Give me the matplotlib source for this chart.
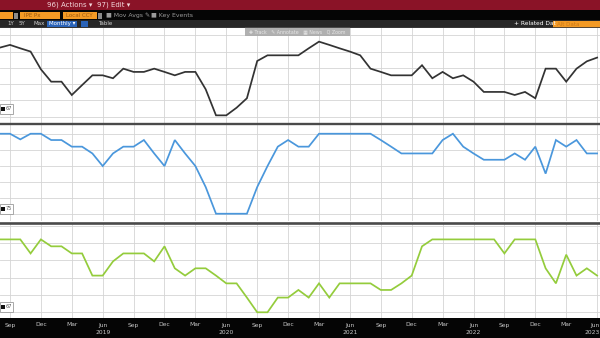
import matplotlib
matplotlib.use("Agg")
import matplotlib.pyplot as plt
from matplotlib.patches import Rectangle
import numpy as np

plt.rcParams['font.family'] = ['DejaVu Sans']

# ---------------- data (monthly, Aug 2018 .. Jun 2023) ----------------
months = list(range(-1, 58))  # 0 = Sep 2018
series_black = [42.4, 44.1, 42.0, 40.0, 29.1, 21.5, 21.5, 13.3, 19.4, 25.4, 25.4,
                23.6, 29.5, 27.5, 27.5, 29.5, 27.5, 25.4, 27.5, 27.5, 16.8, 0.8,
                0.8, 5.5, 11.3, 34.2, 37.7, 37.7, 37.7, 37.7, 42.0, 46.1, 44.1,
                42.0, 40.0, 37.7, 29.5, 27.5, 25.4, 25.4, 25.4, 31.6, 23.6, 27.5,
                23.6, 25.4, 21.5, 15.2, 15.2, 15.2, 13.3, 15.2, 11.3, 29.5, 29.5,
                21.5, 29.5, 34.0, 36.3]
series_blue = [49.9, 49.9, 46.4, 49.9, 49.9, 46.0, 46.0, 41.9, 41.9, 37.7, 29.9,
               37.7, 41.9, 41.9, 46.0, 37.7, 29.9, 46.0, 37.7, 29.9, 16.9, 0.4,
               0.4, 0.4, 0.4, 16.9, 29.9, 41.9, 46.0, 41.9, 41.9, 49.9, 49.9,
               49.9, 49.9, 49.9, 49.9, 46.0, 41.9, 37.7, 37.7, 37.7, 37.7, 46.0,
               49.9, 41.9, 37.7, 33.8, 33.8, 33.8, 37.7, 33.8, 41.9, 25.2, 46.0,
               41.9, 46.0, 37.7, 37.7]
series_green = [42.1, 42.1, 42.1, 34.0, 42.1, 38.1, 38.1, 34.0, 34.0, 21.2, 21.2,
                29.4, 34.0, 34.0, 34.0, 29.4, 38.1, 25.4, 21.2, 25.4, 25.4, 21.2,
                16.7, 16.7, 8.5, 0.0, 0.0, 8.5, 8.5, 12.9, 8.5, 16.7, 8.5,
                16.7, 16.7, 16.7, 16.7, 12.9, 12.9, 16.7, 21.2, 38.1, 42.1, 42.1,
                42.1, 42.1, 42.1, 42.1, 42.1, 34.0, 42.1, 42.1, 42.1, 25.4, 16.7,
                33.3, 21.2, 25.4, 21.2]
legend_values = ["67", "75", "67"]

tick_months = list(range(0, 58, 3))
tick_labels = ["Sep", "Dec", "Mar", "Jun", "Sep", "Dec", "Mar", "Jun", "Sep", "Dec",
               "Mar", "Jun", "Sep", "Dec", "Mar", "Jun", "Sep", "Dec", "Mar", "Jun"]
year_labels = ["2019", "2020", "2021", "2022", "2023"]

# ---------------- figure ----------------
W, H = 600, 338
fig = plt.figure(figsize=(6, 3.38), dpi=100)
fig.patch.set_facecolor("white")


def px_axes(x0, y0, x1, y1, **kw):
    return fig.add_axes([x0 / W, 1 - y1 / H, (x1 - x0) / W, (y1 - y0) / H], **kw)


XMIN, XMAX = -0.97, 57.28

panels = [
    (px_axes(0, 27, 600, 123), series_black, "#333333", (-3.9, 55.1), [0, 10, 20, 30, 40, 50]),
    (px_axes(0, 125, 600, 221), series_blue, "#4a97dc", (-4.1, 55.3), [0, 10, 20, 30, 40, 50]),
    (px_axes(0, 224, 600, 318), series_green, "#94cc3c", (-3.3, 51.0), [0, 10, 20, 30, 40, 50]),
]

for ax, data, col, ylim, yt in panels:
    ax.set_facecolor("white")
    ax.plot(months, data, color=col, lw=1.25, solid_joinstyle="miter", zorder=3)
    ax.set_xlim(XMIN, XMAX)
    ax.set_ylim(*ylim)
    ax.set_xticks(tick_months)
    ax.set_yticks(yt)
    ax.grid(True, color="#d4d4d4", lw=0.6)
    ax.tick_params(length=0, labelbottom=False, labelleft=False)
    for s in ax.spines.values():
        s.set_visible(False)

# ---------------- bottom date band ----------------
band = px_axes(0, 318, 600, 338)
band.set_facecolor("#050505")
band.set_xlim(XMIN, XMAX)
band.set_ylim(0, 1)
band.set_xticks([])
band.set_yticks([])
for s in band.spines.values():
    s.set_visible(False)
yr_iter = iter(year_labels)
last = tick_months[-1]
for m, lab in zip(tick_months, tick_labels):
    ha = "right" if m == last else "center"
    xx = XMAX - 0.05 if m == last else m
    band.text(xx, 0.65, lab, color="#c8c8c8", fontsize=4.3, ha=ha, va="center")
    if lab == "Jun":
        band.text(xx, 0.28, next(yr_iter), color="#c8c8c8", fontsize=4.3, ha=ha, va="center")

# ---------------- chrome overlay (pixel coordinates) ----------------
ov = fig.add_axes([0, 0, 1, 1], zorder=10)
ov.set_xlim(0, W)
ov.set_ylim(H, 0)
ov.axis("off")
ov.patch.set_alpha(0)

# header bands
ov.add_patch(Rectangle((0, 0), 600, 10, color="#8a1327", lw=0))
ov.add_patch(Rectangle((0, 10), 600, 10, color="#050505", lw=0))
ov.add_patch(Rectangle((0, 20), 600, 7.5, color="#272727", lw=0))

ov.text(47, 5.2, "96) Actions \u25be", color="#f3d7dc", fontsize=5.0, ha="left", va="center")
ov.text(97, 5.2, "97) Edit \u25be", color="#f3d7dc", fontsize=5.0, ha="left", va="center")

orange = "#f39a25"
ov.add_patch(Rectangle((0, 12), 13, 7, color=orange, lw=0))
ov.add_patch(Rectangle((14, 12.5), 4, 6, color="#8a8a8a", lw=0))
ov.add_patch(Rectangle((20, 12), 40, 7, color=orange, lw=0))
ov.text(24, 15.6, "IPE Px", color="#9c5a10", fontsize=4, va="center")
ov.add_patch(Rectangle((63, 12), 34, 7, color=orange, lw=0))
ov.text(66, 15.6, "Local CCY", color="#9c5a10", fontsize=4, va="center")
ov.add_patch(Rectangle((98, 12.5), 4, 6, color="#8a8a8a", lw=0))
ov.text(106, 15.6, "\u25a0 Mov Avgs \u270e", color="#9a9a9a", fontsize=4.4, va="center")
ov.text(151, 15.6, "\u25a0 Key Events", color="#9a9a9a", fontsize=4.4, va="center")

ov.text(7, 23.8, "1Y", color="#d0d0d0", fontsize=4, va="center")
ov.text(19, 23.8, "5Y", color="#d0d0d0", fontsize=4, va="center")
ov.text(33, 23.8, "Max", color="#d0d0d0", fontsize=4, va="center")
ov.add_patch(Rectangle((47, 20.8), 30, 6, color="#2a63b8", lw=0))
ov.text(49, 23.8, "Monthly \u25be", color="white", fontsize=4, va="center")
ov.add_patch(Rectangle((81, 20.8), 7, 6, color="#2a63b8", lw=0))
ov.text(98, 23.8, "Table", color="#d0d0d0", fontsize=4, va="center")

ov.text(514, 23.8, "+ Related Dat", color="white", fontsize=4.2, va="center")
ov.add_patch(Rectangle((553, 20.5), 47, 7, color=orange, lw=0))
ov.text(557, 24, "Alt Data", color="#c87818", fontsize=4, va="center")

# toolbar in chart top
ov.add_patch(Rectangle((245, 27), 105, 9, color="#a8a8a8", lw=0, alpha=0.9))
ov.text(297.5, 31.5, "\u271a Track   \u270e Annotate   \u25a6 News   Q Zoom",
        color="#e6e6e6", fontsize=3.4, ha="center", va="center")

# panel separators
ov.plot([0, 600], [124, 124], color="#4a4a4a", lw=1.7)
ov.plot([0, 600], [222.8, 222.8], color="#4a4a4a", lw=1.9)
ov.plot([0, 600], [27.3, 27.3], color="#3a3a3a", lw=0.6)

# legend boxes
for (ax, data, col, ylim, yt), ytop, lab in zip(panels, [104, 204, 302], legend_values):
    ov.add_patch(Rectangle((0, ytop), 12.5, 9.5, facecolor="white", edgecolor="#9a9a9a", lw=0.6))
    ov.add_patch(Rectangle((1.2, ytop + 2.8), 3.5, 3.8, color="#111111", lw=0))
    ov.text(5.8, ytop + 4.9, lab, color="#555555", fontsize=3.6, va="center")

fig.savefig("out.png", dpi=100, facecolor=fig.get_facecolor())
